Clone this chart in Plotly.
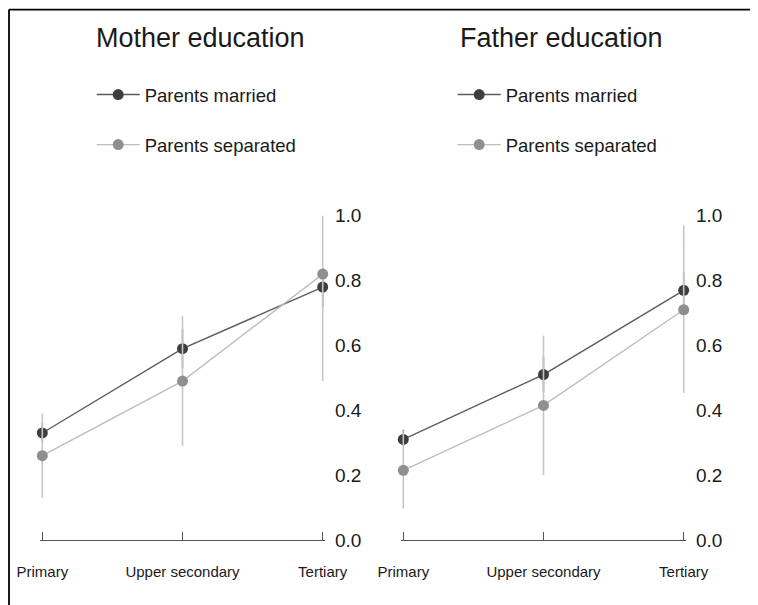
import plotly.graph_objects as go

categories = ["Primary", "Upper secondary", "Tertiary"]
panel_titles = ["Mother education", "Father education"]
series_names = ["Parents married", "Parents separated"]

# Mother education panel
mother_married = [0.33, 0.59, 0.78]
mother_married_lo = [0.30, 0.53, 0.72]
mother_married_hi = [0.36, 0.65, 0.84]
mother_separated = [0.26, 0.49, 0.82]
mother_separated_lo = [0.13, 0.29, 0.49]
mother_separated_hi = [0.39, 0.69, 1.00]

# Father education panel
father_married = [0.31, 0.51, 0.77]
father_married_lo = [0.29, 0.455, 0.715]
father_married_hi = [0.34, 0.565, 0.825]
father_separated = [0.215, 0.415, 0.71]
father_separated_lo = [0.097, 0.20, 0.454]
father_separated_hi = [0.336, 0.63, 0.97]

y_ticks = [0.0, 0.2, 0.4, 0.6, 0.8, 1.0]

W, H = 758, 605
OFF = 8  # page body margin
FONT = "Liberation Sans, Arial, sans-serif"

def px_x(p):
    return (p - OFF) / W

def px_y(p):
    return 1 - (p - OFF) / H

styles = [
    dict(marker="#3e3e3e", line="#5c5c5c", err="#8a8a8a"),
    dict(marker="#8f8f8f", line="#bdbdbd", err="#c6c6c6"),
]

fig = go.Figure()

panels = [
    (mother_married, mother_married_lo, mother_married_hi,
     mother_separated, mother_separated_lo, mother_separated_hi),
    (father_married, father_married_lo, father_married_hi,
     father_separated, father_separated_lo, father_separated_hi),
]

for pi, (m, mlo, mhi, s, slo, shi) in enumerate(panels):
    xa = "x" if pi == 0 else "x2"
    ya = "y" if pi == 0 else "y2"
    lg = "legend" if pi == 0 else "legend2"
    for si, (vals, lo, hi) in enumerate([(m, mlo, mhi), (s, slo, shi)]):
        st = styles[si]
        fig.add_trace(go.Scatter(
            x=categories, y=vals,
            mode="lines+markers",
            name=series_names[si],
            legend=lg,
            legendgroup=f"g{pi}{si}",
            line=dict(color=st["line"], width=1.4),
            marker=dict(color=st["marker"], size=11),
            error_y=dict(type="data", symmetric=False,
                         array=[h - v for h, v in zip(hi, vals)],
                         arrayminus=[v - l for v, l in zip(vals, lo)],
                         color=st["err"], thickness=1.6, width=0),
            xaxis=xa, yaxis=ya,
            cliponaxis=False,
        ))

y_bottom = px_y(540)
y_top = px_y(540 - 1.05 * 324.3)

axis_common_x = dict(
    type="category", range=[-0.0164, 2.0164],
    showline=True, linecolor="#555555", linewidth=1.4,
    ticks="inside", ticklen=8, tickcolor="#555555", tickwidth=1.4,
    showgrid=False, zeroline=False, automargin=False,
    tickfont=dict(family=FONT, size=15, color="#1a1a1a"),
    ticklabelstandoff=18,
)
axis_common_y = dict(
    range=[0, 1.05], side="right",
    showline=False, ticks="", showgrid=False, zeroline=False, automargin=False,
    tickvals=y_ticks, tickformat=".1f",
    tickfont=dict(family=FONT, size=19, color="#1a1a1a"),
    ticklabelstandoff=9,
)

legend_common = dict(
    xanchor="left", yanchor="top",
    traceorder="grouped", tracegroupgap=23, itemwidth=43,
    font=dict(family=FONT, size=18.5, color="#1a1a1a"),
    bgcolor="rgba(0,0,0,0)",
)

fig.update_layout(
    width=W, height=H, autosize=False,
    margin=dict(l=0, r=0, t=0, b=0, pad=0, autoexpand=False),
    paper_bgcolor="white", plot_bgcolor="white",
    font=dict(family=FONT, color="#1a1a1a"),
    xaxis=dict(domain=[px_x(40), px_x(325)], anchor="y", **axis_common_x),
    yaxis=dict(domain=[y_bottom, y_top], anchor="x", **axis_common_y),
    xaxis2=dict(domain=[px_x(401), px_x(686)], anchor="y2", **axis_common_x),
    yaxis2=dict(domain=[y_bottom, y_top], anchor="x2", **axis_common_y),
    legend=dict(x=px_x(91.7), y=px_y(76), **legend_common),
    legend2=dict(x=px_x(91.7 + 361), y=px_y(76), **legend_common),
    showlegend=True,
)

for i, t in enumerate(panel_titles):
    fig.add_annotation(
        text=t, xref="paper", yref="paper",
        x=px_x(94 + 361 * i + (3 if i else 0)), y=px_y(38),
        xanchor="left", yanchor="middle", showarrow=False,
        font=dict(family=FONT, size=27, color="#1a1a1a"),
    )

# outer frame lines (top and left)
fig.add_shape(type="line", xref="paper", yref="paper",
              x0=px_x(9), x1=1.02, y0=px_y(9.6), y1=px_y(9.6),
              line=dict(color="black", width=1.8))
fig.add_shape(type="line", xref="paper", yref="paper",
              x0=px_x(9), x1=px_x(9), y0=px_y(9.6), y1=-0.02,
              line=dict(color="black", width=1.8))

fig.write_html("out.html")
